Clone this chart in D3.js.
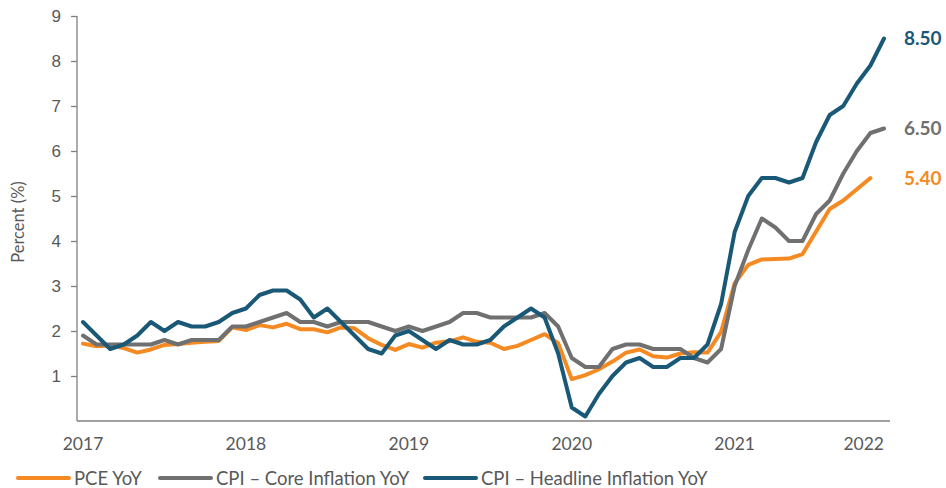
<!DOCTYPE html>
<html>
<head>
<meta charset="utf-8">
<script src="https://cdn.jsdelivr.net/npm/d3@7"></script>
<style>
  html, body { margin: 0; padding: 0; background: #fff; }
  svg { display: block; font-family: Lato, "Open Sans", sans-serif; }
</style>
</head>
<body>
<svg id="chart" width="946" height="488"></svg>
<script>
// Monthly observations, Apr 2017 .. Mar 2022
const months = d3.range(60).map(i => new Date(2017, 3 + i, 1));

const pceYoY = [1.72, 1.66, 1.68, 1.62, 1.52, 1.59, 1.69, 1.71, 1.74, 1.76, 1.78, 2.08, 2.02, 2.13, 2.08,
  2.16, 2.04, 2.04, 1.97, 2.08, 2.06, 1.84, 1.69, 1.58, 1.71, 1.63, 1.74, 1.77,
  1.86, 1.76, 1.74, 1.60, 1.67, 1.80, 1.93, 1.73, 0.93, 1.02, 1.15, 1.32,
  1.52, 1.59, 1.44, 1.41, 1.50, 1.53, 1.52, 1.98, 3.06, 3.47, 3.59, 3.60,
  3.61, 3.71, 4.21, 4.71, 4.90, 5.15, 5.40];

const cpiCore = [1.9, 1.7, 1.7, 1.7, 1.7, 1.7, 1.8, 1.7, 1.8, 1.8, 1.8, 2.1, 2.1, 2.2, 2.3,
  2.4, 2.2, 2.2, 2.1, 2.2, 2.2, 2.2, 2.1, 2.0, 2.1, 2.0, 2.1, 2.2,
  2.4, 2.4, 2.3, 2.3, 2.3, 2.3, 2.4, 2.1, 1.4, 1.2, 1.2, 1.6,
  1.7, 1.7, 1.6, 1.6, 1.6, 1.4, 1.3, 1.6, 3.0, 3.8, 4.5, 4.3,
  4.0, 4.0, 4.6, 4.9, 5.5, 6.0, 6.4, 6.5];

const cpiHeadline = [2.2, 1.9, 1.6, 1.7, 1.9, 2.2, 2.0, 2.2, 2.1, 2.1, 2.2, 2.4, 2.5, 2.8, 2.9,
  2.9, 2.7, 2.3, 2.5, 2.2, 1.9, 1.6, 1.5, 1.9, 2.0, 1.8, 1.6, 1.8,
  1.7, 1.7, 1.8, 2.1, 2.3, 2.5, 2.3, 1.5, 0.3, 0.1, 0.6, 1.0,
  1.3, 1.4, 1.2, 1.2, 1.4, 1.4, 1.7, 2.6, 4.2, 5.0, 5.4, 5.4,
  5.3, 5.4, 6.2, 6.8, 7.0, 7.5, 7.9, 8.5];

const yTicks = [1, 2, 3, 4, 5, 6, 7, 8, 9];
const xTickIndex = [0, 12, 24, 36, 48, 59];
const xTickLabels = ["2017", "2018", "2019", "2020", "2021", "2022"];
const endLabels = ["8.50", "6.50", "5.40"];

const seriesNames = ["PCE YoY", "CPI \u2013 Core Inflation YoY", "CPI \u2013 Headline Inflation YoY"];
const seriesColors = ["#F58A22", "#707070", "#1A5878"];

const series = [
  { name: seriesNames[0], values: pceYoY, color: seriesColors[0], label: endLabels[2] },
  { name: seriesNames[1], values: cpiCore, color: seriesColors[1], label: endLabels[1] },
  { name: seriesNames[2], values: cpiHeadline, color: seriesColors[2], label: endLabels[0] }
];

const svg = d3.select("#chart");
const textColor = "#595959";
const axisColor = "#808080";

const x = d3.scaleLinear().domain([0, months.length - 1]).range([83, 884]);
const y = d3.scaleLinear().domain([0, 9]).range([421, 16]);
const plotLeft = 77, plotRight = 890;

// Y axis
const yAxis = d3.axisLeft(y).tickValues(yTicks).tickSize(6).tickPadding(10).tickFormat(d3.format("d"));
const gy = svg.append("g").attr("transform", `translate(${plotLeft},0)`).call(yAxis);
gy.select(".domain").remove();
gy.append("line").attr("x1", 0).attr("x2", 0).attr("y1", y(9)).attr("y2", y(0))
  .attr("stroke", axisColor).attr("stroke-width", 1.3);
gy.selectAll(".tick line").attr("stroke", axisColor).attr("stroke-width", 1.3);
gy.selectAll(".tick text").attr("fill", textColor).attr("font-size", 17);

// X axis baseline
svg.append("line").attr("x1", plotLeft).attr("x2", plotRight).attr("y1", y(0)).attr("y2", y(0))
  .attr("stroke", axisColor).attr("stroke-width", 1.3);

svg.append("g").selectAll("text").data(xTickIndex).join("text")
  .attr("x", d => x(d))
  .attr("y", 450)
  .attr("text-anchor", (d, i) => i === xTickIndex.length - 1 ? "end" : "middle")
  .attr("fill", textColor).attr("font-size", 17.5)
  .text((d, i) => xTickLabels[i]);

// Y axis title
svg.append("text")
  .attr("transform", `translate(24,222) rotate(-90)`)
  .attr("text-anchor", "middle")
  .attr("fill", textColor).attr("font-size", 16.5)
  .text("Percent (%)");

// Lines
const line = d3.line().x((d, i) => x(i)).y(d => y(d)).curve(d3.curveLinear);
svg.append("g").selectAll("path").data(series).join("path")
  .attr("d", d => line(d.values))
  .attr("fill", "none")
  .attr("stroke", d => d.color)
  .attr("stroke-width", 4)
  .attr("stroke-linejoin", "round")
  .attr("stroke-linecap", "round");

// End labels
svg.append("g").selectAll("text").data(series).join("text")
  .attr("x", 904)
  .attr("y", d => y(d.values[d.values.length - 1]))
  .attr("dy", "0.36em")
  .attr("fill", d => d.color)
  .attr("font-size", 19).attr("font-weight", "bold")
  .text(d => d.label);

// Legend
const legendItems = [
  { s: series[0], x0: 18 },
  { s: series[1], x0: 160 },
  { s: series[2], x0: 425 }
];
const lg = svg.append("g").attr("transform", "translate(0,478)");
const items = lg.selectAll("g").data(legendItems).join("g")
  .attr("transform", d => `translate(${d.x0},0)`);
items.append("line").attr("x1", 0).attr("x2", 51).attr("y1", 0).attr("y2", 0)
  .attr("stroke", d => d.s.color).attr("stroke-width", 4).attr("stroke-linecap", "round");
items.append("text").attr("x", 56).attr("y", 0).attr("dy", "0.36em")
  .attr("fill", textColor).attr("font-size", 18.5)
  .text(d => d.s.name);
</script>
</body>
</html>
